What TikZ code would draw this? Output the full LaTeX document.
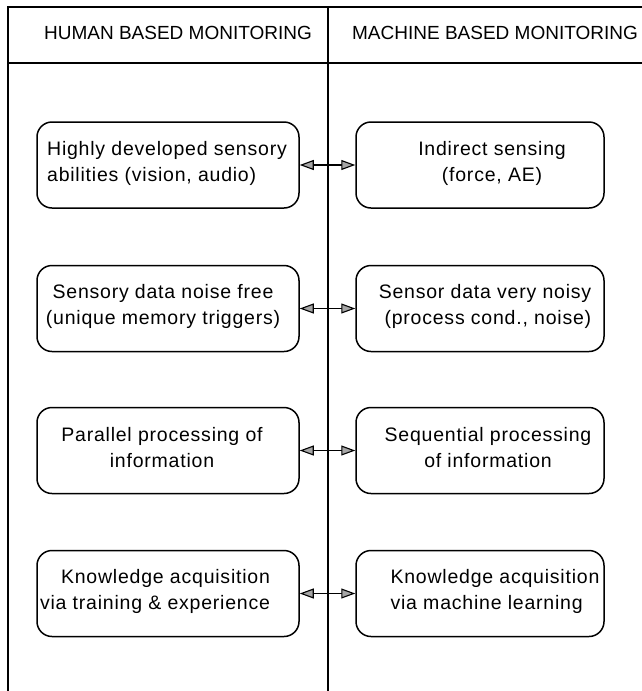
\documentclass[tikz,border=0pt]{standalone}
\usepackage{fontspec}
\setmainfont{Liberation Sans}
\newfontfamily\bodyfont{Liberation Sans}[LetterSpace=4]
\usetikzlibrary{arrows.meta}
\begin{document}
\begin{tikzpicture}[x=1pt,y=-1pt,
  frame/.style={line width=1.3pt},
  box/.style={draw,line width=1.5pt,rounded corners=15pt,inner sep=0pt,minimum height=86pt},
  lbox/.style={box,minimum width=262pt},
  rbox/.style={box,minimum width=248pt},
  txt/.style={inner sep=0pt,font=\bodyfont\fontsize{19.5}{26}\selectfont},
  head/.style={inner sep=0pt,font=\fontsize{19}{23}\selectfont},
  tip/.style={Triangle[length=14pt,width=10pt,fill=gray!70]},
  arr/.style={line width=1.1pt,{Triangle[length=14pt,width=10pt,fill=gray!70]}-{Triangle[length=14pt,width=10pt,fill=gray!70]}}
]
\useasboundingbox (0,0) rectangle (642,691);
% frame
\draw[frame] (8,691) -- (8,7) -- (642,7);
\draw[frame] (8,63) -- (642,63);
\draw[frame] (328,7) -- (328,691);
% headers
\node[head] (hh) at (178,33) {HUMAN BASED MONITORING};
\node[head] (hm) at (495,33) {MACHINE BASED MONITORING};
% boxes
\node[lbox] (L1) at (168,165) {};
\node[rbox] (R1) at (480,165) {};
\node[lbox] (L2) at (168,308.5) {};
\node[rbox] (R2) at (480,308.5) {};
\node[lbox] (L3) at (168,450.5) {};
\node[rbox] (R3) at (480,450.5) {};
\node[lbox] (L4) at (168,593.5) {};
\node[rbox] (R4) at (480,593.5) {};
% texts
\node[txt,align=left] (tL1) at (167,163.5) {Highly developed sensory\\abilities (vision, audio)};
\node[txt,align=center] (tR1) at (492,163.5) {Indirect sensing\\(force, AE)};
\node[txt,align=center] (tL2) at (163,306) {Sensory data noise free\\(unique memory triggers)};
\node[txt,align=right] (tR2) at (485,306) {Sensor data very noisy\\(process cond., noise)};
\node[txt,align=center] (tL3) at (162,448) {Parallel processing of\\information};
\node[txt,align=center] (tR3) at (488,448) {Sequential processing\\of information};
\node[txt,align=right] (tL4) at (155,591) {Knowledge acquisition\\via training \& experience};
\node[txt,align=left] (tR4) at (495,591) {Knowledge acquisition\\via machine learning};
% arrows
\draw[arr] (L1.east) -- (R1.west);
\draw[arr] (L2.east) -- (R2.west);
\draw[arr] (L3.east) -- (R3.west);
\draw[arr] (L4.east) -- (R4.west);
\end{tikzpicture}
\end{document}
